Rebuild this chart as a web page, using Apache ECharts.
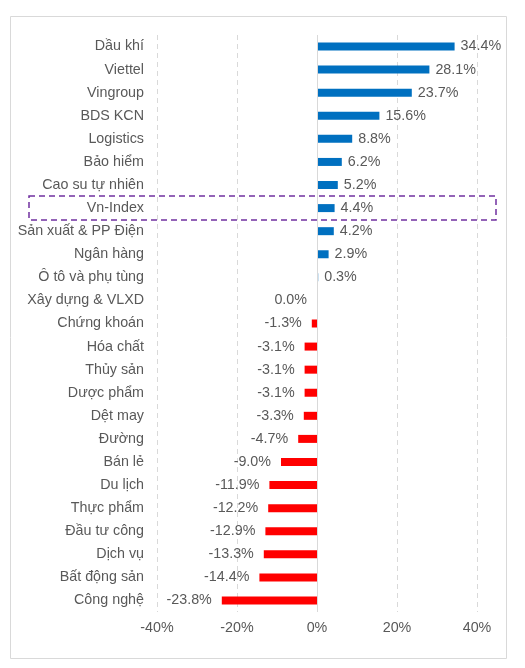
<!DOCTYPE html>
<html>
<head>
<meta charset="utf-8">
<script src="https://cdn.jsdelivr.net/npm/echarts@6/dist/echarts.min.js"></script>
<style>
html,body{margin:0;padding:0;background:#fff;}
#c{width:525px;height:668px;}
</style>
</head>
<body>
<div id="c"></div>
<script>
var categories = ["Dầu khí","Viettel","Vingroup","BDS KCN","Logistics","Bảo hiểm","Cao su tự nhiên","Vn-Index","Sản xuất & PP Điện","Ngân hàng","Ô tô và phụ tùng","Xây dựng & VLXD","Chứng khoán","Hóa chất","Thủy sản","Dược phẩm","Dệt may","Đường","Bán lẻ","Du lịch","Thực phẩm","Đầu tư công","Dịch vụ","Bất động sản","Công nghệ"];
var values = [34.4,28.1,23.7,15.6,8.8,6.2,5.2,4.4,4.2,2.9,0.3,0.0,-1.3,-3.1,-3.1,-3.1,-3.3,-4.7,-9.0,-11.9,-12.2,-12.9,-13.3,-14.4,-23.8];
var highlight = "Vn-Index";
var xTicks = {min:-40, max:40, interval:20};

var chart = echarts.init(document.getElementById('c'));
var font = "'Liberation Sans', Arial, sans-serif";
var data = values.map(function(v){
  return {
    value: v,
    itemStyle: {color: v > 0 ? '#0070C0' : '#FF0000'},
    label: {position: v > 0 ? 'right' : 'left', distance: v > 0 ? 6 : 10}
  };
});
chart.setOption({
  animation: false,
  textStyle: {fontFamily: font},
  grid: {left: 157, right: 48, top: 35, height: 577},
  xAxis: {
    type: 'value', min: xTicks.min, max: xTicks.max, interval: xTicks.interval,
    axisLine: {show: false}, axisTick: {show: false},
    axisLabel: {formatter: '{value}%', color: '#595959', fontSize: 14.3, fontFamily: font, margin: 9},
    splitLine: {lineStyle: {color: '#D9D9D9', type: [5, 4], width: 1}}
  },
  yAxis: {
    type: 'category', data: categories, inverse: true,
    axisLine: {show: false}, axisTick: {show: false},
    axisLabel: {color: '#595959', fontSize: 14.3, fontFamily: font, margin: 13}
  },
  series: [{
    type: 'bar', data: data, barWidth: 8,
    label: {show: true, color: '#595959', fontSize: 14.3, fontFamily: font,
      formatter: function(p){ return p.value.toFixed(1) + '%'; }},
    markLine: {
      silent: true, symbol: 'none', label: {show: false},
      lineStyle: {color: '#D9D9D9', type: 'solid', width: 1},
      data: [{xAxis: 0}]
    }
  }]
});
var yc = chart.convertToPixel({yAxisIndex: 0}, highlight);
chart.setOption({
  graphic: [
    {type: 'rect', shape: {x: 10.5, y: 16.5, width: 496, height: 642}, style: {fill: 'none', stroke: '#D9D9D9', lineWidth: 1}, z: -1},
    {type: 'rect', shape: {x: 29, y: yc - 12, width: 467, height: 24}, style: {fill: 'none', stroke: '#7030A0', lineWidth: 1.5, lineDash: [6, 4]}, z: 10}
  ]
});
</script>
</body>
</html>
